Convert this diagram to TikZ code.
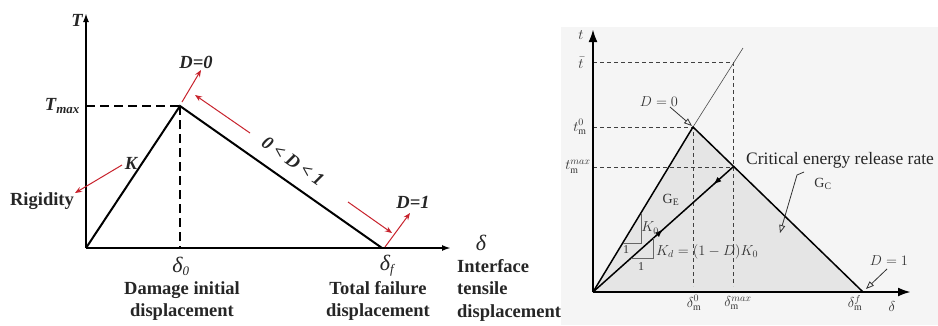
\documentclass[tikz,border=0pt]{standalone}
\usepackage{fontspec}
\setmainfont{Liberation Serif}
\usetikzlibrary{arrows.meta,decorations.markings,calc}
\definecolor{redarrow}{RGB}{200,35,45}
\begin{document}
\begin{tikzpicture}[x=1pt,y=-1pt,
  lab/.style={font=\fontsize{18.5}{22.5}\selectfont\bfseries, inner sep=0pt, text=black!85},
  ilab/.style={font=\fontsize{18.5}{22}\selectfont\bfseries\itshape, inner sep=0pt, text=black!85},
  glab/.style={font=\fontsize{22}{24}\selectfont\itshape, inner sep=0pt, text=black!85},
  redarr/.style={draw=redarrow, line width=1pt, -{Stealth[length=7pt,width=5.5pt]}},
  axisL/.style={line width=1.8pt, -{Latex[length=9pt,width=6pt]}},
  dashL/.style={line width=1.8pt, dash pattern=on 9pt off 5pt},
  lineL/.style={line width=2pt},
  axisR/.style={line width=2.4pt, -{Latex[length=13pt,width=9pt]}},
  lineR/.style={line width=1.5pt},
  dashR/.style={line width=0.9pt, dash pattern=on 4pt off 3pt, draw=black!75},
  sm/.style={font=\fontsize{14}{16}\selectfont, inner sep=0pt, text=black!80},
  openarr/.style={line width=0.8pt, draw=black!80, -{Triangle[open,length=8pt,width=6pt]}},
  tri/.style={line width=1pt, draw=black!60}
]
\useasboundingbox (0,0) rectangle (938,325);
\fill[white] (0,0) rectangle (938,325);

% ================= LEFT PANEL =================
\coordinate (O1) at (86,248);
\coordinate (Ytop1) at (86,13);
\coordinate (Xend1) at (451,248);
\coordinate (P1) at (180,106);
\coordinate (F1) at (382,248);
\coordinate (Tm1) at (86,106);
\coordinate (P1foot) at (180,248);

\draw[axisL] (O1) -- (Ytop1);
\draw[axisL] (O1) -- (Xend1);
\draw[dashL] (Tm1) -- (P1);
\draw[dashL] (P1) -- (P1foot);
\draw[lineL] (O1) -- (P1) -- (F1);

\node[ilab, anchor=east] (Tlab) at (83,20) {T};
\node[ilab, anchor=east] (Tmaxlab) at (80,106) {T\textsubscript{max}};
\node[ilab] (Klab) at (131,163) {K};
\node[lab] (Rig) at (42,201) {Rigidity};
\node[ilab] (D0) at (196,62) {D=0};
\node[ilab, rotate=-35] (Dmid) at (293,161) {0 < D < 1};
\node[ilab] (D1) at (413,202) {D=1};
\node[glab] (d0) at (181,266) {δ\textsubscript{\fontsize{13}{13}\selectfont 0}};
\node[glab] (df) at (387,266) {δ\textsubscript{\fontsize{13}{13}\selectfont\itshape f}};
\node[glab] (dax) at (481,243) {δ};
\node[lab, align=center] (DI) at (182,301) {Damage initial\\displacement};
\node[lab, align=center] (TF) at (378,301) {Total failure\\displacement};
\node[lab, align=left, anchor=west] (IT) at (457,290) {Interface\\tensile\\displacement};

\coordinate (a1s) at (182,102);
\coordinate (a1e) at (201,70);
\coordinate (a2s) at (250,133);
\coordinate (a2e) at (195,95);
\coordinate (a3s) at (348,202);
\coordinate (a3e) at (392,233);
\coordinate (a4s) at (385,247);
\coordinate (a4e) at (410,213);
\coordinate (a5s) at (122,165);
\coordinate (a5e) at (75,193);
\draw[redarr] (a1s) -- (a1e);
\draw[redarr] (a2s) -- (a2e);
\draw[redarr] (a3s) -- (a3e);
\draw[redarr] (a4s) -- (a4e);
\draw[redarr] (a5s) -- (a5e);

% ================= RIGHT PANEL =================
\fill[black!4] (561,27) rectangle (938,325);
\coordinate (O2) at (593,292);
\coordinate (Ytop2) at (593,29);
\coordinate (Xend2) at (911,292);
\coordinate (P2) at (693,127);
\coordinate (F2) at (863,292);
\coordinate (Ext) at (743,48);
\coordinate (M2) at (733,167);
\coordinate (Tb0) at (593,62);
\coordinate (Tb1) at (733,62);
\coordinate (Tm0a) at (593,127);
\coordinate (Tmxa) at (593,167);
\coordinate (V1) at (693,286);
\coordinate (V2) at (733,286);

\fill[black!10] (O2) -- (P2) -- (F2) -- cycle;

\draw[dashR] (Tb0) -- (Tb1) -- (V2);
\draw[dashR] (Tm0a) -- (P2) -- (V1);
\draw[dashR] (Tmxa) -- (M2);
\draw[line width=0.6pt, black!70] (P2) -- (Ext);
\draw[lineR] (O2) -- (P2) -- (F2);
\draw[lineR, postaction={decorate}, decoration={markings,
   mark=at position 0.5 with {\arrow{Latex[length=8pt,width=6pt]}},
   mark=at position 0.86 with {\arrowreversed{Latex[length=8pt,width=6pt]}}}] (O2) -- (M2);

% slope triangles
\coordinate (s1a) at (641,213);
\coordinate (s1b) at (641,243);
\coordinate (s1c) at (623,243);
\draw[tri] (s1a) -- (s1b) -- (s1c);
\coordinate (s2a) at (653,238);
\coordinate (s2b) at (653,258);
\coordinate (s2c) at (631,258);
\draw[tri] (s2a) -- (s2b) -- (s2c);

\draw[axisR] (O2) -- (Ytop2);
\draw[axisR] (O2) -- (Xend2);

\node[sm] (tl) at (581,35) {$t$};
\node[sm] (tbl) at (581,63) {$\bar{t}$};
\node[sm] (tm0) at (580,127) {$t_{\mathrm{m}}^{0}$};
\node[sm] (tmx) at (578,167) {$t_{\mathrm{m}}^{max}$};
\node[sm] (RD0) at (659,102) {$D = 0$};
\node[sm] (RD1) at (889,261) {$D = 1$};
\node[sm, font=\fontsize{17.5}{19}\selectfont, anchor=west, text=black!85] (CE) at (746,160) {Critical energy release rate};
\node[sm] (GC) at (823,184) {$\mathrm{G_C}$};
\node[sm] (GE) at (671,200) {$\mathrm{G_E}$};
\node[sm] (K0) at (650,228) {$K_0$};
\node[sm, anchor=west] (Kd) at (656,252) {$K_d = (1 - D)K_0$};
\node[sm, font=\fontsize{12}{13}\selectfont] (one1) at (626,250) {1};
\node[sm, font=\fontsize{12}{13}\selectfont] (one2) at (641,267) {1};
\node[sm] (dm0) at (694,303) {$\delta_{\mathrm{m}}^{0}$};
\node[sm] (dmx) at (738,303) {$\delta_{\mathrm{m}}^{max}$};
\node[sm] (dmf) at (855,303) {$\delta_{\mathrm{m}}^{f}$};
\node[sm] (dl) at (892,306) {$\delta$};

\coordinate (o1s) at (670,107);
\coordinate (o1e) at (692,126);
\draw[openarr] (o1s) -- (o1e);
\coordinate (o2s) at (887,269);
\coordinate (o2e) at (866,289);
\draw[openarr] (o2s) -- (o2e);
\coordinate (o3a) at (804,172);
\coordinate (o3b) at (797,175);
\coordinate (o3e) at (780,233);
\draw[openarr] (o3a) -- (o3b) -- (o3e);
\end{tikzpicture}
\end{document}
